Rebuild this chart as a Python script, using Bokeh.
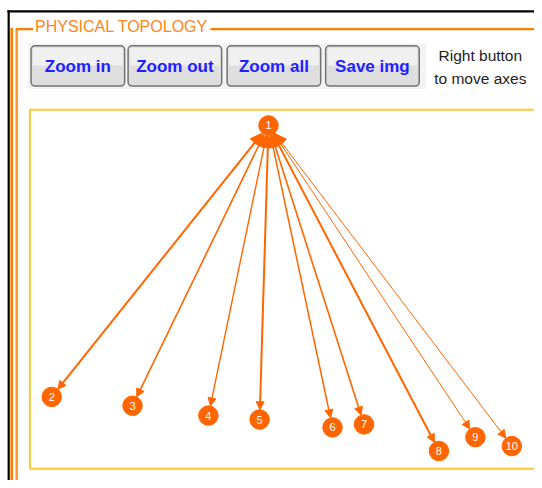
from bokeh.plotting import figure
from bokeh.models import Range1d, Arrow, NormalHead
from bokeh.embed import file_html
from bokeh.resources import INLINE
from bokeh.core.properties import value
import math

# ---------------- data ----------------
node_ids = ["1", "2", "3", "4", "5", "6", "7", "8", "9", "10"]
node_x = [272, 52, 134, 211, 263, 337, 369, 445, 482, 519]
node_y = [127, 403, 412, 422, 426, 434, 431, 458, 444, 453]

link_src = ["1", "1", "1", "1", "1", "1", "1", "1", "1"]
link_dst = ["2", "3", "4", "5", "6", "7", "8", "9", "10"]
link_width = [2.0, 1.6, 1.4, 2.0, 1.5, 1.6, 2.0, 1.0, 1.0]

title_text = "PHYSICAL TOPOLOGY"
button_labels = ["Zoom in", "Zoom out", "Zoom all", "Save img"]
hint_lines = ["Right button", "to move axes"]

# ---------------- styles / layout ----------------
ORANGE = "#FF6600"
FRAME_ORANGE = "#FF8000"
FRAME_ORANGE_LIGHT = "#FF9A2E"
YELLOW = "#FFC933"
FONT = "Liberation Sans"

W, H = 534, 480
VW, VH = 542, 488   # view coordinates of the reference picture
p = figure(width=W, height=H, x_range=Range1d(0, VW), y_range=Range1d(VH, 0),
           x_axis_type=None, y_axis_type=None, toolbar_location=None,
           output_backend="svg", min_border=0, outline_line_color=None,
           background_fill_color="white", border_fill_color="white")
p.grid.visible = False

# outer frame lines
p.segment(x0=[7, 8.3], y0=[11, 10], x1=[VW, 8.3], y1=[11, VH],
          line_color="black", line_width=2.2)
p.segment(x0=[11.4], y0=[28], x1=[11.4], y1=[VH], line_color=FRAME_ORANGE, line_width=2.6)
p.segment(x0=[16.5], y0=[28.2], x1=[16.5], y1=[VH], line_color=FRAME_ORANGE_LIGHT, line_width=2.6)
p.segment(x0=[15.5, 213], y0=[29.2, 29.2], x1=[33, VW], y1=[29.2, 29.2],
          line_color=FRAME_ORANGE, line_width=2.2)

# title
p.text(x=[35], y=[26.5], text=[title_text], text_color="#FF8418",
       text_font=value(FONT), text_font_size="16px", text_font_style="normal",
       text_align="left", text_baseline="middle")

# button bar
p.quad(left=[28], right=[432], top=[43.5], bottom=[90], fill_color="#F3F3F3", line_color=None)
btn_left = [31, 129.5, 230, 330]
btn_w = 95
for i, lab in enumerate(button_labels):
    l = btn_left[i]
    p.quad(left=[l], right=[l + btn_w], top=[46], bottom=[87],
           fill_color="#DEDEDE", line_color="#737373", line_width=1.5, border_radius=4)
    p.quad(left=[l + 2], right=[l + btn_w - 2], top=[48], bottom=[66],
           fill_color="#F0F0F0", line_color=None)
    p.text(x=[l + btn_w / 2], y=[67.5], text=[lab], text_color="#1F1FFF",
           text_font=value(FONT), text_font_size="17px", text_font_style="bold",
           text_align="center", text_baseline="middle")

p.text(x=[487, 487], y=[56, 79], text=hint_lines, text_color="#222222",
       text_font=value(FONT), text_font_size="15.5px",
       text_align="center", text_baseline="middle")

# plot box
p.quad(left=[29.8], right=[570], top=[111], bottom=[476], fill_color=None,
       line_color=YELLOW, line_width=2)

# links (double-headed arrows)
pos = {n: (x, y) for n, x, y in zip(node_ids, node_x, node_y)}
R = 10
for s, d, w in zip(link_src, link_dst, link_width):
    x0, y0 = pos[s]
    x1, y1 = pos[d]
    L = math.hypot(x1 - x0, y1 - y0)
    ux, uy = (x1 - x0) / L, (y1 - y0) / L
    p.add_layout(Arrow(x_start=x0 + ux * R, y_start=y0 + uy * R,
                       x_end=x1 - ux * R, y_end=y1 - uy * R,
                       line_color=ORANGE, line_width=w,
                       start=NormalHead(size=12, fill_color=ORANGE, line_color=ORANGE),
                       end=NormalHead(size=8, fill_color=ORANGE, line_color=ORANGE)))

# nodes
p.scatter(x=node_x, y=node_y, size=19.5, fill_color=ORANGE, line_color=ORANGE)
p.text(x=node_x, y=node_y, text=node_ids, text_color="white",
       text_font=value(FONT), text_font_size="11px",
       text_align="center", text_baseline="middle")

open("out.html", "w").write(file_html(p, INLINE))
